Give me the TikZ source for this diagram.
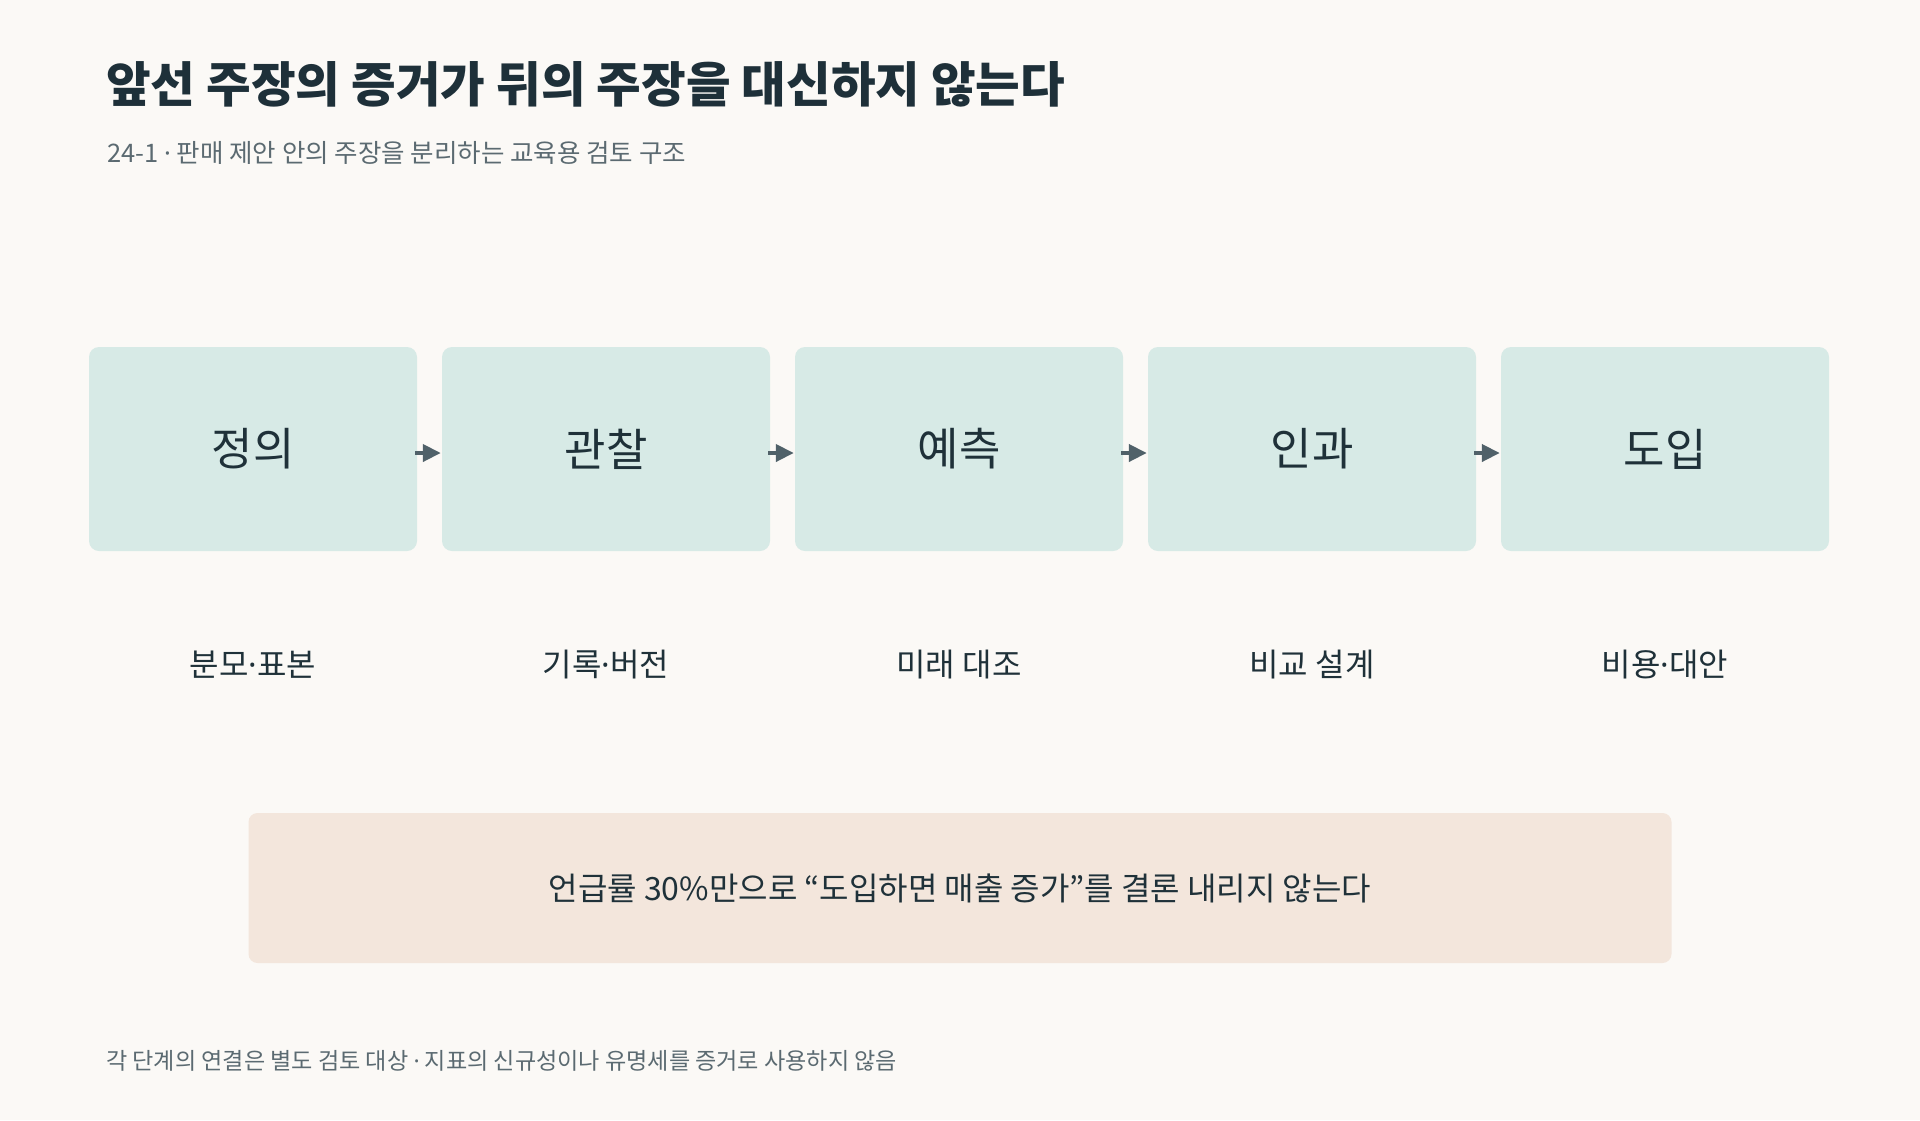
\documentclass[tikz,border=0pt]{standalone}
\usepackage{fontspec}
\newfontfamily\kr{Noto Sans CJK KR}
\newfontfamily\lat{Noto Sans}
\newcommand\mdot{{\lat ·}}
\usetikzlibrary{arrows.meta}
\definecolor{bgc}{HTML}{FBF9F6}
\definecolor{boxc}{HTML}{D7EAE6}
\definecolor{notec}{HTML}{F3E6DC}
\definecolor{titlec}{HTML}{1E3039}
\definecolor{subc}{HTML}{5B6A71}
\definecolor{labc}{HTML}{1F3139}
\definecolor{arrc}{HTML}{506169}
\tikzset{
  stagebox/.style={fill=boxc, rounded corners=10pt, minimum width=328pt, minimum height=204pt, inner sep=0pt, text=labc, font=\kr\fontsize{45}{54}\selectfont},
  sublabel/.style={inner sep=0pt, text=labc, font=\kr\fontsize{32}{38}\selectfont},
  flowarrow/.style={draw=arrc, line width=4pt, -{Triangle[length=18pt,width=17pt]}, shorten <=-2pt, shorten >=1pt},
  notebox/.style={fill=notec, rounded corners=9pt, minimum width=1423pt, minimum height=150pt, inner sep=0pt, text=labc, font=\kr\fontsize{32}{38}\selectfont},
}
\begin{document}
\begin{tikzpicture}[x=1pt,y=-1pt]
\fill[bgc] (0,0) rectangle (1920,1120);
\useasboundingbox (0,0) rectangle (1920,1120);

\node[anchor=west, inner sep=0pt, text=titlec, font=\kr\bfseries\fontsize{48.5}{58}\selectfont] (title) at (106,84.5) {앞선 주장의 증거가 뒤의 주장을 대신하지 않는다};
\node[anchor=west, inner sep=0pt, text=subc, font=\kr\fontsize{25.5}{30}\selectfont] (sub) at (107,153) {24-1 \mdot{} 판매 제안 안의 주장을 분리하는 교육용 검토 구조};

\node[stagebox] (s1) at (253,449) {정의};
\node[stagebox] (s2) at (606,449) {관찰};
\node[stagebox] (s3) at (959,449) {예측};
\node[stagebox] (s4) at (1312,449) {인과};
\node[stagebox] (s5) at (1665,449) {도입};

\draw[flowarrow] ([yshift=-4pt]s1.east) -- ([yshift=-4pt]s2.west);
\draw[flowarrow] ([yshift=-4pt]s2.east) -- ([yshift=-4pt]s3.west);
\draw[flowarrow] ([yshift=-4pt]s3.east) -- ([yshift=-4pt]s4.west);
\draw[flowarrow] ([yshift=-4pt]s4.east) -- ([yshift=-4pt]s5.west);

\node[sublabel] (l1) at (253,665) {분모\mdot{}표본};
\node[sublabel] (l2) at (606,665) {기록\mdot{}버전};
\node[sublabel] (l3) at (959,665) {미래 대조};
\node[sublabel] (l4) at (1312,665) {비교 설계};
\node[sublabel] (l5) at (1665,665) {비용\mdot{}대안};

\node[notebox] (note) at (960,888) {언급률 30\%만으로 “도입하면 매출 증가”를 결론 내리지 않는다};

\node[anchor=west, inner sep=0pt, text=subc, font=\kr\fontsize{23.1}{28}\selectfont] (foot) at (106,1061) {각 단계의 연결은 별도 검토 대상 \mdot{} 지표의 신규성이나 유명세를 증거로 사용하지 않음};
\end{tikzpicture}
\end{document}
